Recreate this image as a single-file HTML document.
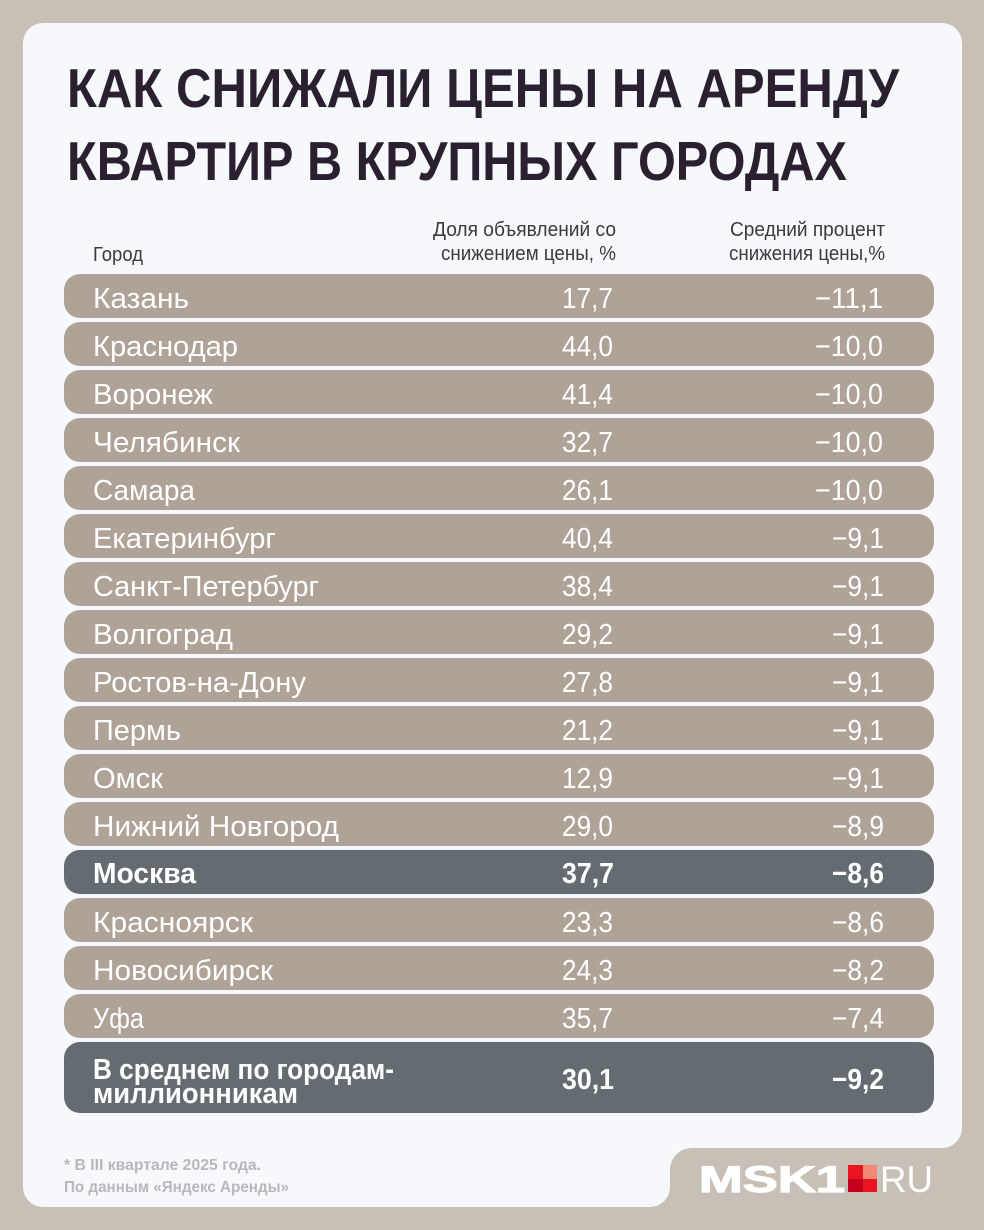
<!DOCTYPE html>
<html><head><meta charset="utf-8"><style>
html,body{margin:0;padding:0;background:#c8bfb6;}
svg{display:block;}
text{font-family:"Liberation Sans","DejaVu Sans",sans-serif;}
</style></head><body>
<svg width="984" height="1230" viewBox="0 0 984 1230" xmlns="http://www.w3.org/2000/svg">
<rect x="0" y="0" width="984" height="1230" fill="#c8bfb6"/>
<path d="M43,23 H942 A20,20 0 0 1 962,43 V1128 A20,20 0 0 1 942,1148 H692 A22,22 0 0 0 670,1170 V1187 A20,20 0 0 1 650,1207 H43 A20,20 0 0 1 23,1187 V43 A20,20 0 0 1 43,23 Z" fill="#f7f8fc"/>

<g fill="#2b2030" font-weight="bold" font-size="55">
<text x="67" y="107" textLength="832" lengthAdjust="spacingAndGlyphs">КАК СНИЖАЛИ ЦЕНЫ НА АРЕНДУ</text>
<text x="67" y="180" textLength="780" lengthAdjust="spacingAndGlyphs">КВАРТИР В КРУПНЫХ ГОРОДАХ</text>
</g>

<g fill="#3a3a3e" font-size="20">
<text x="93" y="261" textLength="50" lengthAdjust="spacingAndGlyphs">Город</text>
<text x="433" y="236" textLength="183" lengthAdjust="spacingAndGlyphs">Доля объявлений со</text>
<text x="441" y="260" textLength="175" lengthAdjust="spacingAndGlyphs">снижением цены, %</text>
<text x="730" y="236" textLength="155" lengthAdjust="spacingAndGlyphs">Средний процент</text>
<text x="729" y="260" textLength="156" lengthAdjust="spacingAndGlyphs">снижения цены,%</text>
</g>

<g>
<rect x="64" y="274" width="870" height="44" rx="16" fill="#afa398"/>
<rect x="64" y="322" width="870" height="44" rx="16" fill="#afa398"/>
<rect x="64" y="370" width="870" height="44" rx="16" fill="#afa398"/>
<rect x="64" y="418" width="870" height="44" rx="16" fill="#afa398"/>
<rect x="64" y="466" width="870" height="44" rx="16" fill="#afa398"/>
<rect x="64" y="514" width="870" height="44" rx="16" fill="#afa398"/>
<rect x="64" y="562" width="870" height="44" rx="16" fill="#afa398"/>
<rect x="64" y="610" width="870" height="44" rx="16" fill="#afa398"/>
<rect x="64" y="658" width="870" height="44" rx="16" fill="#afa398"/>
<rect x="64" y="706" width="870" height="44" rx="16" fill="#afa398"/>
<rect x="64" y="754" width="870" height="44" rx="16" fill="#afa398"/>
<rect x="64" y="802" width="870" height="44" rx="16" fill="#afa398"/>
<rect x="64" y="850" width="870" height="44" rx="16" fill="#646c71"/>
<rect x="64" y="898" width="870" height="44" rx="16" fill="#afa398"/>
<rect x="64" y="946" width="870" height="44" rx="16" fill="#afa398"/>
<rect x="64" y="994" width="870" height="44" rx="16" fill="#afa398"/>
<rect x="64" y="1042" width="870" height="71" rx="16" fill="#646c71"/>
</g>

<g fill="#ffffff" font-size="29">
<text x="93" y="308" textLength="96" lengthAdjust="spacingAndGlyphs">Казань</text>
<text x="562" y="308" textLength="51" lengthAdjust="spacingAndGlyphs">17,7</text>
<text x="815" y="308" textLength="68" lengthAdjust="spacingAndGlyphs">−11,1</text>

<text x="93" y="356" textLength="145" lengthAdjust="spacingAndGlyphs">Краснодар</text>
<text x="562" y="356" textLength="51" lengthAdjust="spacingAndGlyphs">44,0</text>
<text x="815" y="356" textLength="68" lengthAdjust="spacingAndGlyphs">−10,0</text>

<text x="93" y="404" textLength="120" lengthAdjust="spacingAndGlyphs">Воронеж</text>
<text x="562" y="404" textLength="51" lengthAdjust="spacingAndGlyphs">41,4</text>
<text x="815" y="404" textLength="68" lengthAdjust="spacingAndGlyphs">−10,0</text>

<text x="93" y="452" textLength="147" lengthAdjust="spacingAndGlyphs">Челябинск</text>
<text x="562" y="452" textLength="51" lengthAdjust="spacingAndGlyphs">32,7</text>
<text x="815" y="452" textLength="68" lengthAdjust="spacingAndGlyphs">−10,0</text>

<text x="93" y="500" textLength="102" lengthAdjust="spacingAndGlyphs">Самара</text>
<text x="562" y="500" textLength="51" lengthAdjust="spacingAndGlyphs">26,1</text>
<text x="815" y="500" textLength="68" lengthAdjust="spacingAndGlyphs">−10,0</text>

<text x="93" y="548" textLength="183" lengthAdjust="spacingAndGlyphs">Екатеринбург</text>
<text x="562" y="548" textLength="51" lengthAdjust="spacingAndGlyphs">40,4</text>
<text x="832" y="548" textLength="52" lengthAdjust="spacingAndGlyphs">−9,1</text>

<text x="93" y="596" textLength="226" lengthAdjust="spacingAndGlyphs">Санкт-Петербург</text>
<text x="562" y="596" textLength="51" lengthAdjust="spacingAndGlyphs">38,4</text>
<text x="832" y="596" textLength="52" lengthAdjust="spacingAndGlyphs">−9,1</text>

<text x="93" y="644" textLength="140" lengthAdjust="spacingAndGlyphs">Волгоград</text>
<text x="562" y="644" textLength="51" lengthAdjust="spacingAndGlyphs">29,2</text>
<text x="832" y="644" textLength="52" lengthAdjust="spacingAndGlyphs">−9,1</text>

<text x="93" y="692" textLength="213" lengthAdjust="spacingAndGlyphs">Ростов-на-Дону</text>
<text x="562" y="692" textLength="51" lengthAdjust="spacingAndGlyphs">27,8</text>
<text x="832" y="692" textLength="52" lengthAdjust="spacingAndGlyphs">−9,1</text>

<text x="93" y="740" textLength="88" lengthAdjust="spacingAndGlyphs">Пермь</text>
<text x="562" y="740" textLength="51" lengthAdjust="spacingAndGlyphs">21,2</text>
<text x="832" y="740" textLength="52" lengthAdjust="spacingAndGlyphs">−9,1</text>

<text x="93" y="788" textLength="70" lengthAdjust="spacingAndGlyphs">Омск</text>
<text x="562" y="788" textLength="51" lengthAdjust="spacingAndGlyphs">12,9</text>
<text x="832" y="788" textLength="52" lengthAdjust="spacingAndGlyphs">−9,1</text>

<text x="93" y="836" textLength="246" lengthAdjust="spacingAndGlyphs">Нижний Новгород</text>
<text x="562" y="836" textLength="51" lengthAdjust="spacingAndGlyphs">29,0</text>
<text x="832" y="836" textLength="52" lengthAdjust="spacingAndGlyphs">−8,9</text>

<text x="93" y="883" textLength="103" lengthAdjust="spacingAndGlyphs" font-weight="bold">Москва</text>
<text x="562" y="883" textLength="52" lengthAdjust="spacingAndGlyphs" font-weight="bold">37,7</text>
<text x="832" y="883" textLength="52" lengthAdjust="spacingAndGlyphs" font-weight="bold">−8,6</text>

<text x="93" y="932" textLength="160" lengthAdjust="spacingAndGlyphs">Красноярск</text>
<text x="562" y="932" textLength="51" lengthAdjust="spacingAndGlyphs">23,3</text>
<text x="832" y="932" textLength="52" lengthAdjust="spacingAndGlyphs">−8,6</text>

<text x="93" y="980" textLength="180" lengthAdjust="spacingAndGlyphs">Новосибирск</text>
<text x="562" y="980" textLength="51" lengthAdjust="spacingAndGlyphs">24,3</text>
<text x="832" y="980" textLength="52" lengthAdjust="spacingAndGlyphs">−8,2</text>

<text x="93" y="1028" textLength="51" lengthAdjust="spacingAndGlyphs">Уфа</text>
<text x="562" y="1028" textLength="51" lengthAdjust="spacingAndGlyphs">35,7</text>
<text x="832" y="1028" textLength="52" lengthAdjust="spacingAndGlyphs">−7,4</text>

<text x="93" y="1079" textLength="301" lengthAdjust="spacingAndGlyphs" font-weight="bold">В среднем по городам-</text>
<text x="93" y="1103" textLength="205" lengthAdjust="spacingAndGlyphs" font-weight="bold">миллионникам</text>
<text x="562" y="1089" textLength="52" lengthAdjust="spacingAndGlyphs" font-weight="bold">30,1</text>
<text x="832" y="1089" textLength="52" lengthAdjust="spacingAndGlyphs" font-weight="bold">−9,2</text>
</g>

<g fill="#b6b8bc" font-size="16" font-weight="bold">
<text x="64" y="1170" textLength="197" lengthAdjust="spacingAndGlyphs">* В III квартале 2025 года.</text>
<text x="64" y="1192" textLength="225" lengthAdjust="spacingAndGlyphs">По данным «Яндекс Аренды»</text>
</g>

<g>
<text x="699" y="1192" font-size="37" font-weight="bold" fill="#ffffff" stroke="#ffffff" stroke-width="1.2" textLength="146" lengthAdjust="spacingAndGlyphs">MSK1</text>
<rect x="848" y="1165" width="15" height="14" fill="#e8141f"/>
<rect x="863" y="1165" width="14" height="14" fill="#f28878"/>
<rect x="848" y="1179" width="15" height="13" fill="#c4001c"/>
<rect x="863" y="1179" width="14" height="13" fill="#e8141f"/>
<text x="880" y="1192" font-size="37" fill="#ffffff" textLength="53" lengthAdjust="spacingAndGlyphs">RU</text>
</g>
</svg>
</body></html>
